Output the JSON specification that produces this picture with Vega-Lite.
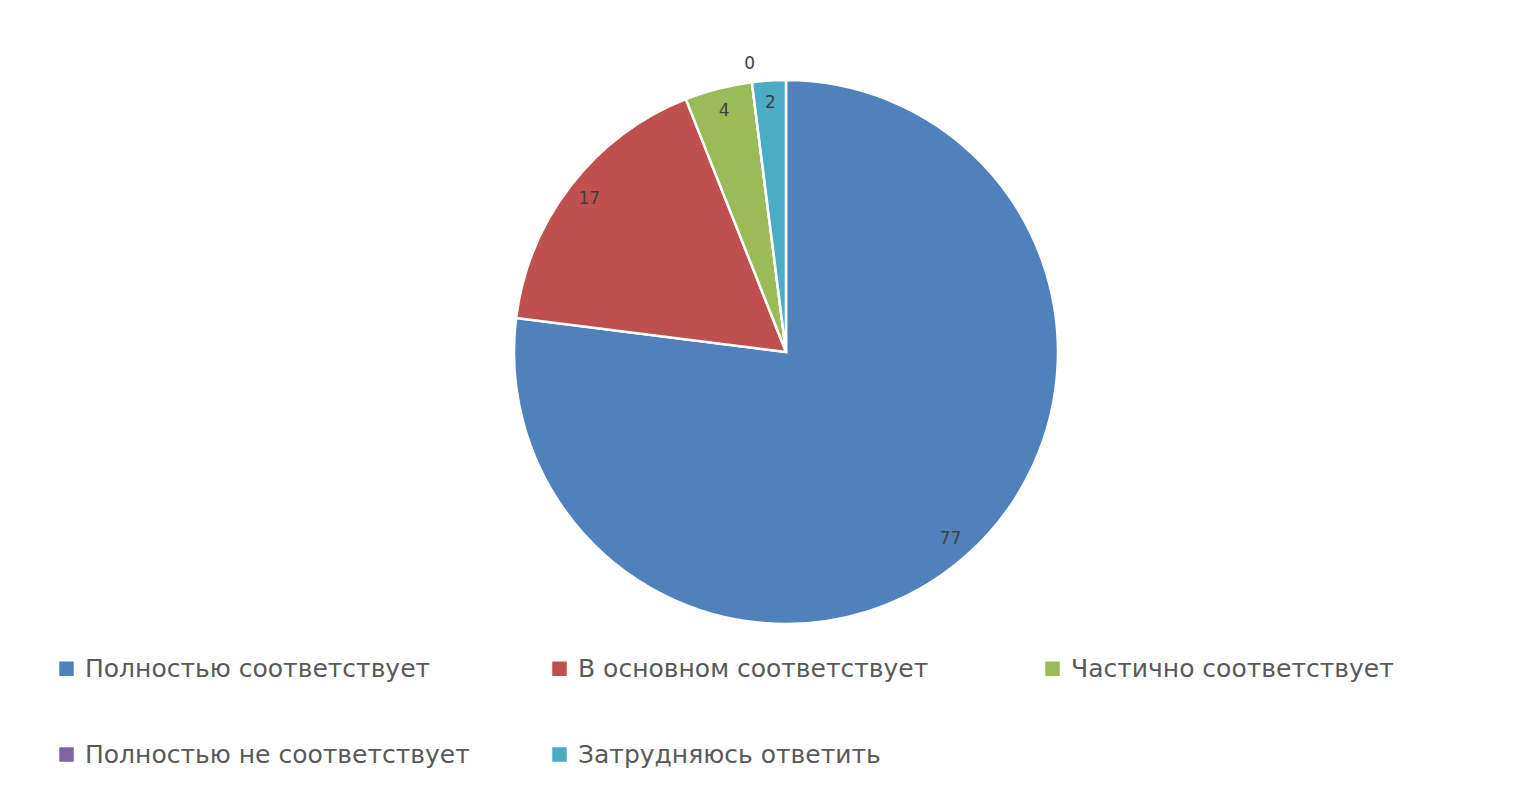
{
  "$schema": "https://vega.github.io/schema/vega-lite/v6.json",
  "width": 1508,
  "height": 682,
  "padding": {"left": 32, "top": 11, "right": 0, "bottom": 114},
  "autosize": {"type": "none"},
  "background": "white",
  "config": {"view": {"stroke": null}},
  "data": {
    "values": [
      {"category": "Полностью соответствует", "value": 77},
      {"category": "В основном соответствует", "value": 17},
      {"category": "Частично соответствует", "value": 4},
      {"category": "Полностью не соответствует", "value": 0},
      {"category": "Затрудняюсь ответить", "value": 2}
    ]
  },
  "transform": [{"window": [{"op": "row_number", "as": "idx"}]}],
  "encoding": {
    "theta": {"field": "value", "type": "quantitative", "stack": true},
    "order": {"field": "idx", "type": "quantitative"}
  },
  "layer": [
    {
      "mark": {"type": "arc", "outerRadius": 272, "stroke": "white", "strokeWidth": 2.5},
      "encoding": {
        "color": {
          "field": "category",
          "type": "nominal",
          "scale": {
            "domain": ["Полностью соответствует", "В основном соответствует", "Частично соответствует", "Полностью не соответствует", "Затрудняюсь ответить"],
            "range": ["#4F81BD", "#C0504D", "#9BBB59", "#8064A2", "#4BACC6"]
          },
          "legend": {
            "title": null,
            "orient": "none",
            "legendX": 22,
            "legendY": 645,
            "direction": "horizontal",
            "columns": 3,
            "gridAlign": "all",
            "columnPadding": 77,
            "rowPadding": 60,
            "padding": 0,
            "symbolType": "square",
            "symbolSize": 210,
            "symbolStrokeWidth": 0,
            "labelFont": "DejaVu Sans",
            "labelFontSize": 25,
            "labelColor": "#595959",
            "labelOffset": 6,
            "labelLimit": 0
          }
        }
      }
    },
    {
      "mark": {"type": "text", "font": "DejaVu Sans", "fontSize": 17, "fill": "#404040", "align": "center", "baseline": "middle", "radius": {"expr": "datum.value == 0 ? 290 : 249"}},
      "encoding": {
        "text": {"field": "value", "type": "quantitative"}
      }
    }
  ]
}
